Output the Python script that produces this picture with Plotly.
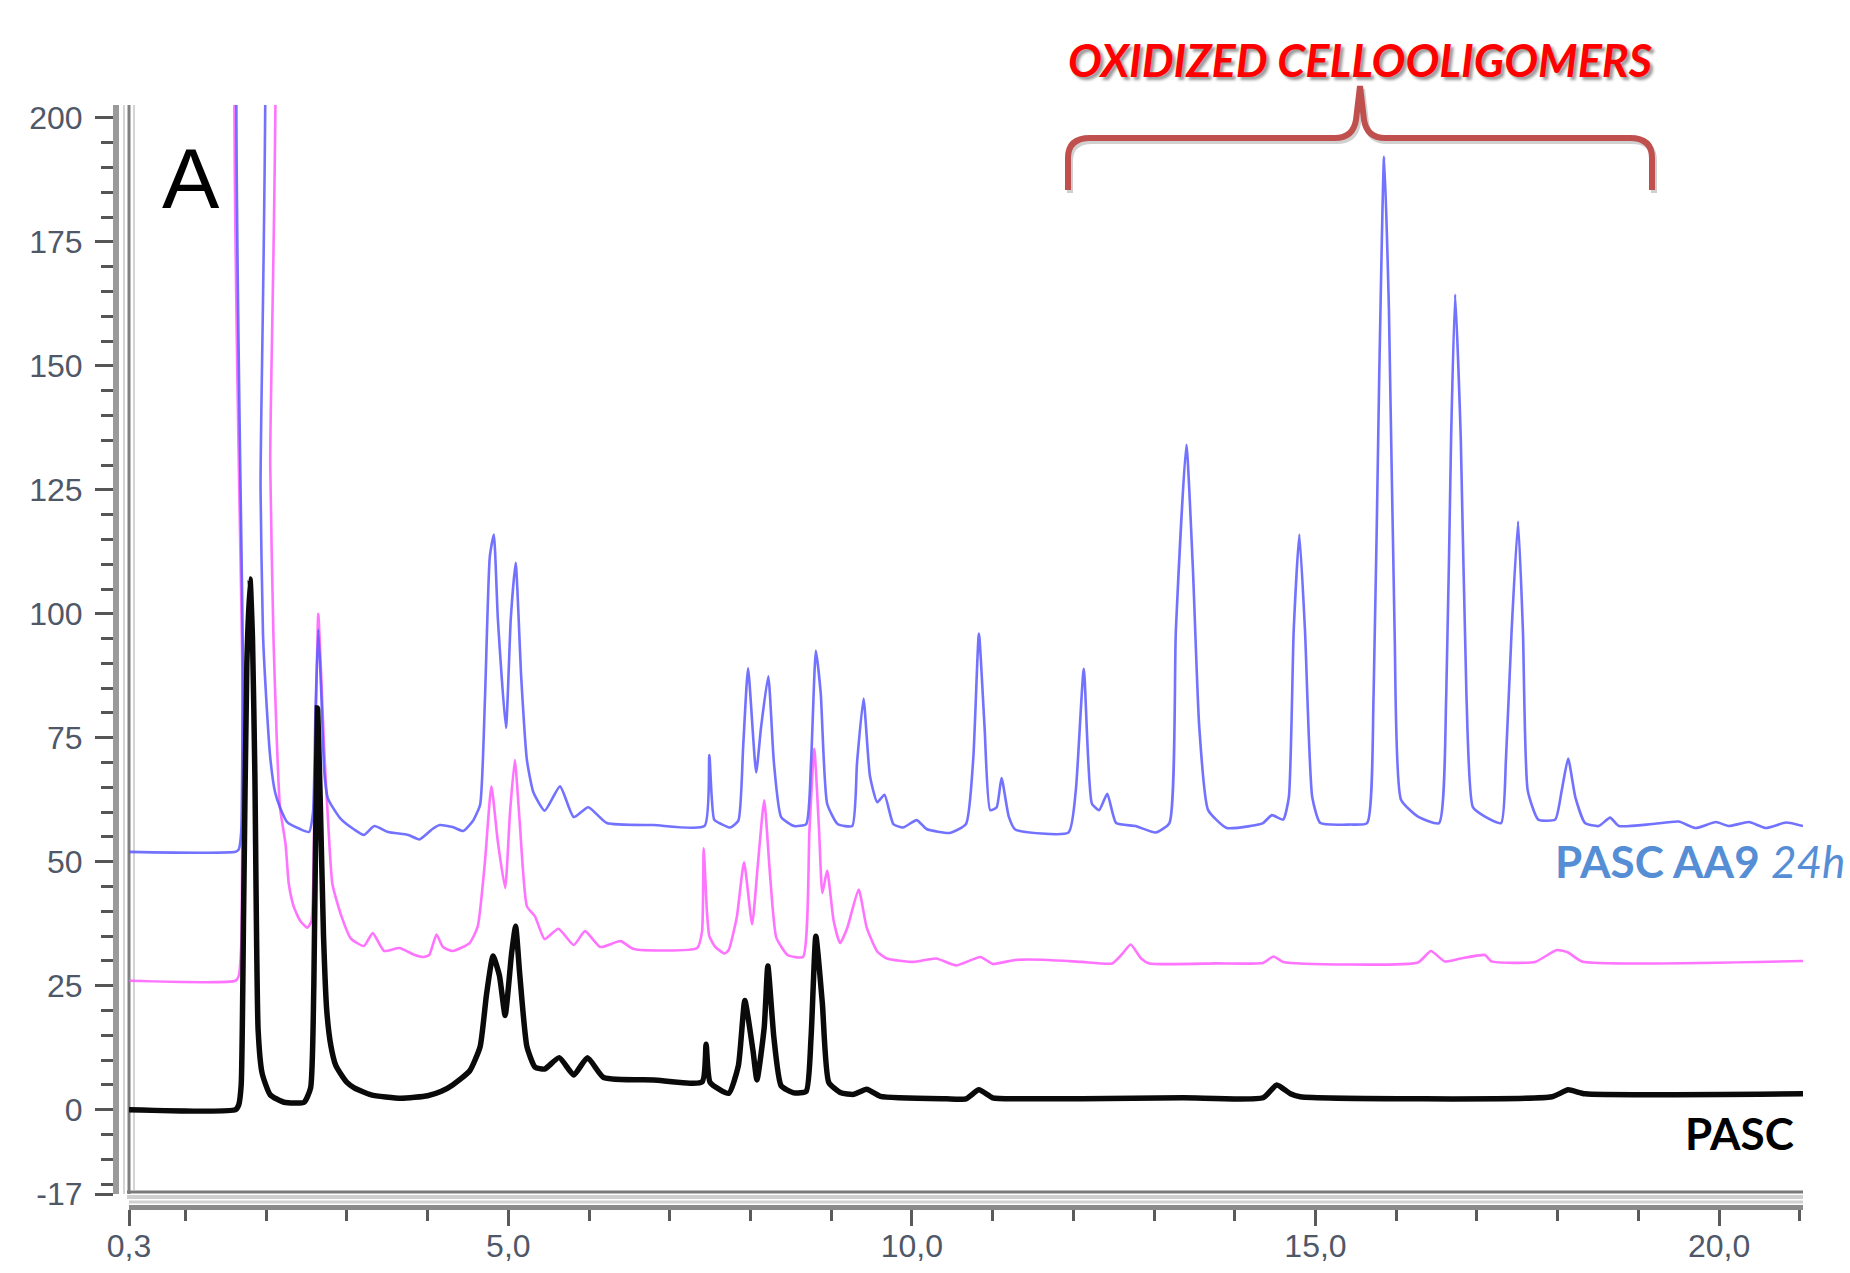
import plotly.graph_objects as go

# ---------------- data ----------------
blue_x = [0.30, 1.62, 1.66, 1.69, 1.71, 1.72, 1.91, 1.93, 1.96, 2.00, 2.05, 2.11, 2.17, 2.26, 2.42, 2.53,
          2.58, 2.61, 2.645, 2.68, 2.72, 2.76, 2.80, 2.92, 3.09, 3.21, 3.34, 3.51, 3.76, 3.90, 4.06, 4.15,
          4.31, 4.44, 4.56, 4.65, 4.71, 4.77, 4.82, 4.87, 4.97, 5.03, 5.09, 5.16, 5.23, 5.31, 5.45, 5.64,
          5.81, 5.99, 6.22, 6.80, 7.43, 7.49, 7.55, 7.64, 7.75, 7.85, 7.91, 7.97, 8.07, 8.13, 8.22, 8.29,
          8.38, 8.54, 8.69, 8.75, 8.81, 8.87, 8.95, 9.08, 9.26, 9.32, 9.40, 9.48, 9.57, 9.66, 9.77, 9.89,
          10.06, 10.18, 10.47, 10.67, 10.76, 10.83, 10.90, 10.97, 11.05, 11.11, 11.20, 11.28, 11.94, 12.03,
          12.13, 12.23, 12.32, 12.42, 12.53, 12.77, 13.02, 13.19, 13.27, 13.40, 13.48, 13.56, 13.67, 13.90,
          14.19, 14.35, 14.46, 14.60, 14.67, 14.73, 14.80, 14.87, 14.96, 15.06, 15.43, 15.64, 15.72, 15.79,
          15.85, 15.91, 15.98, 16.06, 16.27, 16.53, 16.62, 16.68, 16.73, 16.80, 16.87, 16.95, 17.10, 17.30,
          17.36, 17.43, 17.51, 17.57, 17.63, 17.76, 17.97, 18.05, 18.13, 18.22, 18.34, 18.51, 18.65, 18.76,
          19.17, 19.50, 19.71, 19.96, 20.12, 20.37, 20.58, 20.83, 21.04]
blue_y = [52, 52, 52.5, 56, 90, 250, 250, 125, 96, 83, 71, 64, 61, 58, 56.6, 56,
          60, 80, 96.8, 85, 68, 63, 61.6, 58.7, 56.5, 55.4, 57.2, 56, 55.4, 54.5, 56.6, 57.4,
          57, 56.2, 58.2, 61.5, 82.8, 111.5, 116, 99, 77, 99, 110.3, 87, 70.5, 64, 60.3, 65.2,
          59, 61, 57.8, 57.4, 57.2, 71.5, 58.5, 57.6, 56.9, 58.3, 73.5, 89, 68, 77, 87.4, 70,
          59, 57.2, 57.6, 70, 92.6, 84, 61.7, 57.6, 57.2, 70, 82.9, 67.3, 62, 63.5, 57.6, 56.9,
          58.4, 56.6, 55.8, 57.6, 70.8, 96, 77.2, 60.4, 61, 66.9, 59.1, 56.5, 55.9, 64.3,
          88.9, 61.7, 60.4, 63.7, 57.8, 57.2, 55.9, 57.8, 96.6, 134.1, 109.5, 77.2, 60.4, 56.8,
          57.2, 57.8, 59.4, 58.5, 63, 96.6, 116, 96.6, 63, 57.8, 57.5, 57.8, 83.7, 148.3,
          192.2, 161.2, 96.6, 62.5, 59.1, 57.8, 83.7, 135.4, 164.4, 135.4, 83.7, 61, 59.1, 57.8,
          70.8, 96.6, 118.6, 96.6, 64.3, 58.5, 58.5, 64.3, 70.8, 63, 57.8, 57.2, 58.9, 57.2,
          57.6, 58.1, 56.8, 58, 57.2, 58, 56.8, 57.9, 57.2]

pink_x = [0.30, 1.62, 1.66, 1.69, 1.71, 1.72, 2.02, 2.05, 2.09, 2.13, 2.17, 2.24, 2.28, 2.34, 2.42, 2.51,
          2.56, 2.60, 2.645, 2.68, 2.72, 2.76, 2.82, 2.92, 3.05, 3.21, 3.32, 3.46, 3.65, 3.84, 3.95, 4.02,
          4.11, 4.19, 4.31, 4.52, 4.62, 4.71, 4.79, 4.87, 4.96, 5.02, 5.08, 5.14, 5.23, 5.33, 5.45, 5.62,
          5.81, 5.95, 6.14, 6.39, 6.55, 7.34, 7.40, 7.42, 7.46, 7.49, 7.56, 7.68, 7.73, 7.83, 7.92, 8.02,
          8.09, 8.17, 8.24, 8.32, 8.46, 8.65, 8.73, 8.79, 8.85, 8.89, 8.95, 9.03, 9.11, 9.20, 9.34, 9.44,
          9.57, 9.69, 10.02, 10.30, 10.55, 10.85, 11.00, 11.28, 11.69, 12.11, 12.48, 12.61, 12.71, 12.84,
          12.94, 13.77, 14.35, 14.48, 14.60, 16.27, 16.43, 16.60, 16.80, 17.10, 17.18, 17.72, 17.99, 18.13,
          18.30, 21.04]
pink_y = [26, 26, 27, 33, 80, 250, 250, 130, 95, 75, 61, 53.5, 45.5, 41, 38.1, 36.7,
          38, 65, 100, 88, 72, 60, 45.5, 39.6, 34.5, 33, 35.6, 32, 32.6, 31.2, 30.8, 31.2,
          35.3, 32.8, 32, 33.6, 36.9, 50, 65.2, 54, 44.7, 59.8, 70.5, 58.2, 41, 39, 34.4, 36.5,
          33.2, 36, 32.8, 34, 32.4, 32.6, 36, 52.7, 40, 35, 32.9, 31.5, 32.2, 38.8, 49.9, 37.4,
          49.2, 62.4, 47.8, 34.7, 31.2, 30.8, 56.2, 72.8, 56.2, 43.7, 48.2, 38.1, 33.6, 36.7, 44.4, 36.7,
          31.9, 30.5, 29.8, 30.5, 29.1, 30.8, 29.4, 30.2, 30.2, 29.8, 29.5, 31.5, 33.3, 30.5,
          29.5, 29.5, 29.6, 30.9, 29.8, 29.7, 32, 29.9, 30.5, 31.2, 29.9, 29.8, 32.2, 31.7,
          29.9, 30]

black_x = [0.30, 1.62, 1.66, 1.69, 1.72, 1.76, 1.80, 1.83, 1.86, 1.90, 1.95, 2.05, 2.22, 2.47, 2.55, 2.59,
           2.635, 2.67, 2.71, 2.75, 2.80, 2.86, 2.92, 3.00, 3.09, 3.30, 3.67, 4.00, 4.17, 4.31, 4.52, 4.65,
           4.73, 4.81, 4.89, 4.96, 5.04, 5.09, 5.14, 5.23, 5.33, 5.45, 5.63, 5.81, 5.98, 6.18, 6.80, 7.40,
           7.45, 7.50, 7.73, 7.85, 7.93, 8.03, 8.08, 8.17, 8.215, 8.29, 8.38, 8.54, 8.69, 8.75, 8.81, 8.89,
           8.97, 9.12, 9.28, 9.44, 9.61, 10.43, 10.67, 10.83, 11.00, 11.30, 12.11, 13.36, 14.35, 14.52,
           14.69, 14.81, 17.93, 18.13, 18.34, 21.04]
black_y = [0, 0, 1, 5, 40, 90, 107, 95, 67, 16, 7.3, 3, 1.5, 1.5, 4.4, 25,
           81, 62, 35, 20, 13, 9, 7.3, 5.5, 4.4, 3, 2.3, 2.8, 3.7, 5, 7.8, 12.7,
           23.3, 31, 27, 19, 31.5, 37, 27.5, 12.7, 8.6, 8.2, 10.5, 7, 10.5, 6.5, 6, 5.6,
           13.2, 5.5, 3.3, 8.9, 22, 12, 6, 16.6, 29, 14.5, 4.8, 3.4, 3.7, 14.5, 35, 21.5,
           5.5, 3.4, 3.1, 4.1, 2.7, 2.2, 2.2, 4, 2.4, 2.2, 2.2, 2.4, 2.4, 5,
           3.2, 2.6, 2.6, 4, 3.2, 3.2]

y_major = [-17, 0, 25, 50, 75, 100, 125, 150, 175, 200]
y_major_text = ["-17", "0", "25", "50", "75", "100", "125", "150", "175", "200"]
y_minor = [v for v in range(-15, 201, 5) if v % 25 != 0]
x_major = [0.3, 5, 10, 15, 20]
x_major_text = ["0,3", "5,0", "10,0", "15,0", "20,0"]
x_minor = [v for v in range(1, 22) if v % 5 != 0]

# ---------------- layout helpers (pixels -> paper) ----------------
W, H = 1850, 1273


def px(x):
    return x / W


def py(y):
    return 1 - y / H


fig = go.Figure()
fig.add_trace(go.Scatter(x=pink_x, y=pink_y, mode="lines", opacity=0.85,
                         line=dict(color="#ff5cff", width=2.6, shape="spline", smoothing=0.5)))
fig.add_trace(go.Scatter(x=blue_x, y=blue_y, mode="lines", opacity=0.85,
                         line=dict(color="#5a5aff", width=2.6, shape="spline", smoothing=0.5)))
fig.add_trace(go.Scatter(x=black_x, y=black_y, mode="lines",
                         line=dict(color="#0a0a0a", width=5.5, shape="spline", smoothing=0.5)))

tickfont = dict(family="Liberation Sans, Arial", size=32, color="#4f5868")

fig.update_layout(
    width=W, height=H, margin=dict(l=0, r=0, t=0, b=0, autoexpand=False),
    paper_bgcolor="white", plot_bgcolor="white", showlegend=False,
    xaxis=dict(domain=[px(129), px(1803)], range=[0.3, 21.04], anchor="free", position=py(1207),
               automargin=False,
               showline=True, linecolor="#8a8a8a", linewidth=5, showgrid=False, zeroline=False,
               ticks="outside", ticklen=16, tickwidth=3, tickcolor="#5a5a5a",
               tickmode="array", tickvals=x_major, ticktext=x_major_text, tickfont=tickfont,
               ticklabelstandoff=-7,
               minor=dict(tickmode="array", tickvals=x_minor, ticks="outside", ticklen=11,
                          tickwidth=3, tickcolor="#5a5a5a", showgrid=False)),
    yaxis=dict(domain=[py(1194), py(105)], range=[-17, 202.6], anchor="free", position=px(116),
               automargin=False,
               showline=True, linecolor="#9a9a9a", linewidth=6, showgrid=False, zeroline=False,
               ticks="outside", ticklen=18, tickwidth=3, tickcolor="#555555",
               tickmode="array", tickvals=y_major, ticktext=y_major_text, tickfont=tickfont,
               ticklabelstandoff=6,
               minor=dict(tickmode="array", tickvals=y_minor, ticks="outside", ticklen=12,
                          tickwidth=3, tickcolor="#555555", showgrid=False)),
)

# plot frame (left and bottom) with light shadow lines
frame = [
    (px(124), py(105), px(124), py(1194), "#d4d4d4", 2),
    (px(134), py(105), px(134), py(1190), "#d4d4d4", 2),
    (px(129), py(105), px(129), py(1194), "#808080", 3),
    (px(127), py(1197), px(1803), py(1197), "#cfcfcf", 4),
    (px(127), py(1192), px(1803), py(1192), "#7a7a7a", 3),
    (px(129), py(1202), px(1803), py(1202), "#d0d0d0", 3),
]
for x0, y0, x1, y1, c, w in frame:
    fig.add_shape(type="line", xref="paper", yref="paper", x0=x0, y0=y0, x1=x1, y1=y1,
                  line=dict(color=c, width=w), layer="below")

# curly brace over the oxidized oligomer peaks
brace_pts = [("M", [(1068, 190)]), ("L", [(1068, 158)]), ("Q", [(1068, 138), (1090, 138)]),
             ("L", [(1335, 138)]), ("Q", [(1353, 138), (1356, 120)]), ("L", [(1360, 86)]),
             ("L", [(1364, 120)]), ("Q", [(1367, 138), (1385, 138)]), ("L", [(1630, 138)]),
             ("Q", [(1652, 138), (1652, 158)]), ("L", [(1652, 190)])]


def brace_path(dx=0, dy=0):
    s = ""
    for cmd, pts in brace_pts:
        s += cmd + " " + " ".join(f"{px(a + dx):.5f},{py(b + dy):.5f}" for a, b in pts) + " "
    return s.strip()


fig.add_shape(type="path", xref="paper", yref="paper", path=brace_path(2, 3),
              line=dict(color="rgba(120,120,120,0.35)", width=6))
fig.add_shape(type="path", xref="paper", yref="paper", path=brace_path(),
              line=dict(color="#c0504d", width=6))

fig.add_annotation(x=px(191), y=py(178), xref="paper", yref="paper", text="A", showarrow=False,
                   xanchor="center", yanchor="middle",
                   font=dict(family="Liberation Sans, Arial", size=86, color="black"))
fig.add_annotation(x=px(1360), y=py(60), xref="paper", yref="paper", text="OXIDIZED CELLOOLIGOMERS",
                   showarrow=False, xanchor="center", yanchor="middle",
                   font=dict(family="Lato, Liberation Sans", size=45,
                             color="#ff0000", weight="bold", style="italic",
                             shadow="3px 3px 3px rgba(0,0,0,0.4)"))
fig.add_annotation(x=px(1553), y=py(861), xref="paper", yref="paper",
                   text="<b>PASC AA9</b> <i>24h</i>", showarrow=False, xanchor="left", yanchor="middle",
                   font=dict(family="Lato, Open Sans, Liberation Sans", size=44, color="#558ed5"))
fig.add_annotation(x=px(1796), y=py(1133), xref="paper", yref="paper", text="<b>PASC</b>",
                   showarrow=False, xanchor="right", yanchor="middle",
                   font=dict(family="Lato, Open Sans, Liberation Sans", size=44, color="black"))

fig.write_html("out.html")
